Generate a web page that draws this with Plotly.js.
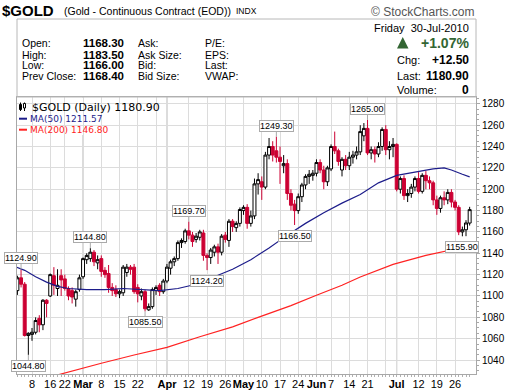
<!DOCTYPE html>
<html><head><meta charset="utf-8">
<script src="https://cdn.plot.ly/plotly-3.0.1.min.js"></script>
<style>html,body{margin:0;padding:0;background:#fff;} #chart{width:520px;height:391px;}</style>
</head><body><div id="chart"></div>
<script>
// ---------- DATA ----------
const febDays=[1,2,3,4,5,8,9,10,11,12,16,17,18,19,22,23,24,25,26];
const marDays=[1,2,3,4,5,8,9,10,11,12,15,16,17,18,19,22,23,24,25,26,29,30,31];
const aprDays=[1,5,6,7,8,9,12,13,14,15,16,19,20,21,22,23,26,27,28,29,30];
const mayDays=[3,4,5,6,7,10,11,12,13,14,17,18,19,20,21,24,25,26,27,28];
const junDays=[1,2,3,4,7,8,9,10,11,14,15,16,17,18,21,22,23,24,25,28,29,30];
const julDays=[1,2,6,7,8,9,12,13,14,15,16,19,20,21,22,23,26,27,28,29,30];

const openP=[1083,1105,1117,1111,1063,1064,1066,1079,1073,1096,1100,1119,1107,1119,1116,1107,1105,1097,1106,
1118,1134,1135,1141,1131,1135,1124,1121,1108,1106,1102,1103,1122,1127,1127,1108,1100,1104,1087,1090,1105,1110,1104,
1114,1126,1132,1135,1150,1151,1161,1157,1153,1155,1159,1138,1136,1141,1146,1141,1157,1152,1170,1164,1168,
1180,1183,1168,1175,1205,1207,1202,1232,1240,1236,1230,1222,1224,1196,1186,1180,1193,1204,1212,1213,
1215,1225,1218,1207,1219,1240,1236,1218,1228,1222,1230,1232,1235,1250,1257,1234,1237,1233,1240,1256,1237,1240,
1242,1200,1210,1194,1196,1202,1210,1198,1213,1208,1206,1190,1182,1192,1190,1197,1188,1183,1160,1162,1168.3];
const highP=[1107,1119,1124.9,1113,1066,1070,1080,1082,1097,1097,1121,1127,1125,1125,1120,1109,1108,1106,1120,
1136,1140,1144.8,1143,1138,1138,1127,1129,1112,1110,1106,1129,1130,1129,1130,1111,1107,1106,1093,1108,1110,1112,1116,
1130,1134,1137,1152,1154,1163,1169.7,1160,1159,1162,1162,1140,1145,1148,1149,1158,1160,1172,1172,1170,1183,
1185,1186,1180,1210,1215,1212,1235,1248,1245,1249.3,1240,1232,1228,1200,1190,1196,1206,1214,1218,1218,
1228,1228,1222,1222,1242,1254,1238,1230,1232,1235,1236,1240,1260,1262,1265,1240,1240,1244,1258,1260,1245,1248,
1243,1212,1213,1200,1205,1212,1216,1215,1217,1212,1208,1194,1194,1198,1200,1200,1190,1185,1165,1171,1183.5];
const lowP=[1082,1101,1108,1062,1044.8,1058,1064,1066,1068,1080,1099,1101,1100,1100,1105,1096,1093,1090,1104,
1116,1130,1132,1128,1125,1118,1117,1103,1100,1099,1098,1100,1118,1120,1102,1094,1096,1085.5,1086,1088,1101,1100,1102,
1112,1120,1128,1133,1145,1149,1153,1146,1150,1152,1133,1124.2,1130,1137,1130,1138,1150,1146,1160,1160,1165,
1176,1163,1165,1172,1195,1190,1200,1228,1226,1225,1205,1215,1190,1180,1166.5,1177,1188,1200,1205,1208,
1212,1215,1200,1203,1217,1233,1222,1212,1218,1218,1224,1228,1232,1245,1232,1228,1225,1230,1236,1232,1228,1230,
1198,1196,1190,1188,1192,1198,1196,1196,1200,1200,1185,1176,1178,1185,1186,1183,1180,1157,1155.9,1156,1166];
const closeP=[1105,1117,1111,1063,1065,1066,1077,1073,1096,1093,1120,1110,1110,1115,1107,1100,1099,1104,1117,
1135,1138,1141,1132,1134,1123,1120,1108,1105,1102,1104,1127,1127,1125,1104,1102,1104,1088,1090,1106,1108,1104,1114,
1127,1132,1135,1150,1152,1161,1157,1151,1156,1160,1138,1136,1143,1146,1141,1156,1153,1170,1165,1168,1181,
1183,1168,1175,1205,1209,1202,1232,1240,1232,1230,1226,1224,1196,1185,1180,1193,1204,1212,1214,1215,
1225,1218,1207,1220,1240,1236,1226,1228,1222,1230,1232,1235,1254,1257,1234,1237,1233,1240,1256,1237,1240,1242,
1200,1210,1194,1196,1202,1210,1198,1213,1208,1206,1190,1182,1192,1190,1197,1188,1183,1160,1162,1168.4,1180.9];

const ma50Dates=['2010-02-01','2010-02-04','2010-02-09','2010-02-12','2010-02-18','2010-02-23','2010-03-02','2010-03-09','2010-03-16','2010-03-23','2010-03-30','2010-04-07','2010-04-14','2010-04-21','2010-04-28','2010-05-05','2010-05-12','2010-05-19','2010-05-26','2010-06-03','2010-06-10','2010-06-17','2010-06-24','2010-07-01','2010-07-09','2010-07-16','2010-07-21','2010-07-23','2010-07-28','2010-07-30'];
const ma50Vals=[1128,1124,1118,1113,1109,1107,1106,1106,1107,1106,1105,1107,1111,1118,1125,1134,1145,1157,1168,1178,1187,1195,1206,1213,1216,1219,1220,1218,1214,1211.57];
const ma200Dates=['2010-02-18','2010-03-02','2010-03-08','2010-03-19','2010-04-01','2010-04-15','2010-04-28','2010-05-07','2010-05-20','2010-06-01','2010-06-10','2010-06-17','2010-06-30','2010-07-14','2010-07-22','2010-07-30'];
const ma200Vals=[1026,1033.5,1037,1044.7,1051.8,1061.8,1071,1080,1091,1100.7,1110,1117.8,1129.6,1138,1142.7,1146.8];

const tickDates=['2010-02-08','2010-02-16','2010-02-22','2010-03-01','2010-03-08','2010-03-15','2010-03-22','2010-03-29','2010-04-01','2010-04-12','2010-04-19','2010-04-26','2010-05-03','2010-05-10','2010-05-17','2010-05-24','2010-06-01','2010-06-07','2010-06-14','2010-06-21','2010-06-28','2010-07-01','2010-07-12','2010-07-19','2010-07-26'];
const tickLabels=['8','16','22','<b>Mar</b>','8','15','22','','<b>Apr</b>','12','19','26','<b>May</b>','10','17','24','<b>Jun</b>','7','14','21','','<b>Jul</b>','12','19','26'];
const monthStarts=['2010-03-01','2010-04-01','2010-05-03','2010-06-01','2010-07-01'];

const peakDates=['2010-02-03','2010-03-03','2010-04-12','2010-05-14','2010-06-21'];
const peakVals=[1124.90,1144.80,1169.70,1249.30,1265.00];
const troughDates=['2010-02-05','2010-03-24','2010-04-19','2010-05-21','2010-07-28'];
const troughVals=[1044.80,1085.50,1124.20,1166.50,1155.90];

// ---------- BUILD ----------
const dates=[];
[['02',febDays],['03',marDays],['04',aprDays],['05',mayDays],['06',junDays],['07',julDays]].forEach(([m,ds])=>{
  ds.forEach(d=>dates.push('2010-'+m+'-'+String(d).padStart(2,'0')));
});

const L=17,R=476,T=97,B=374;
const px=x=>(x-L)/(R-L), py=y=>(B-y)/(B-T);
const SANS='Liberation Sans, Arial, sans-serif';
const DV='DejaVu Sans, Verdana, sans-serif';
const GREEN='#336633', RED='#cc0033', NAVY='#1c1c8a', MARED='#ff2222';

function txt(x,y,text,o){o=o||{};
  return {xref:'paper',yref:'paper',x:px(x),y:py(y),text:text,showarrow:false,
    xanchor:o.anchor||'left',yanchor:'middle',
    font:{family:o.family||SANS,size:o.size||11,color:o.color||'#000'},
    bgcolor:o.bg||'rgba(0,0,0,0)',borderpad:0};
}
const ann=[];
ann.push(txt(1,10,'<b>$GOLD</b>',{size:15}));
ann.push(txt(63,10.5,'(Gold - Continuous Contract (EOD))',{size:10.5}));
ann.push(txt(235,10.5,'INDX',{size:8.5}));
ann.push(txt(476,12,'© StockCharts.com',{anchor:'right',size:12,color:'#555'}));
const rowY=[43,54.5,65.2,76];
const c1=['Open:','High:','Low:','Prev Close:'];
const c1v=['1168.30','1183.50','1166.00','1168.40'];
const c2=['Ask:','Ask Size:','Bid:','Bid Size:'];
const c3=['P/E:','EPS:','Last:','VWAP:'];
rowY.forEach((y,k)=>{
  ann.push(txt(20.5,y,c1[k],{size:10.5}));
  ann.push(txt(125,y,'<b>'+c1v[k]+'</b>',{anchor:'right',size:11.5}));
  ann.push(txt(137,y,c2[k],{size:10.5}));
  ann.push(txt(204,y,c3[k],{size:10.5}));
});
ann.push(txt(470,28,'Friday  30-Jul-2010',{anchor:'right'}));
ann.push(txt(470,43,'<b>+1.07%</b>',{anchor:'right',size:14,color:GREEN}));
ann.push(txt(396,60,'Chg:'));
ann.push(txt(470,60,'<b>+12.50</b>',{anchor:'right',size:12}));
ann.push(txt(396,76,'Last:'));
ann.push(txt(470,76,'<b>1180.90</b>',{anchor:'right',size:12}));
ann.push(txt(396,89.5,'Volume:'));
ann.push(txt(470,89.5,'<b>0</b>',{anchor:'right',size:12}));
// chart legend
ann.push(txt(31,107.5,'$GOLD (Daily) 1180.90',{family:DV,size:11}));
ann.push(txt(29,118.7,'MA(50) 1211.57',{family:DV,size:9,color:NAVY}));
ann.push(txt(29,129.7,'MA(200) 1146.80',{family:DV,size:9,color:MARED}));
// callouts
function callout(d,v,ay){
  return {xref:'x',yref:'y',x:d,y:v,text:v.toFixed(2),showarrow:true,arrowhead:0,arrowwidth:1,
    arrowcolor:'#aaaaaa',ax:0,ay:ay,standoff:0,bgcolor:'#fff',bordercolor:'#aaaaaa',borderwidth:1,borderpad:0,
    font:{family:SANS,size:9,color:'#000'}};
}
peakDates.forEach((d,k)=>ann.push(callout(d,peakVals[k],-11)));
troughDates.forEach((d,k)=>ann.push(callout(d,troughVals[k],11)));

const shapes=[];
shapes.push({type:'rect',xref:'paper',yref:'paper',x0:0,x1:1,y0:1,y1:py(19),line:{color:'#b8b8b8',width:1},fillcolor:'rgba(0,0,0,0)'});
monthStarts.forEach(d=>shapes.push({type:'line',xref:'x',yref:'paper',x0:d,x1:d,y0:0,y1:1,line:{color:'#b0b0b0',width:1},layer:'between'}));
shapes.push({type:'rect',xref:'paper',yref:'paper',x0:px(17.5),x1:px(161),y0:py(113),y1:py(97.5),fillcolor:'#fff',line:{width:0},layer:'between'});
shapes.push({type:'rect',xref:'paper',yref:'paper',x0:px(17.5),x1:px(104),y0:py(135),y1:py(112),fillcolor:'#fff',line:{width:0},layer:'between'});
shapes.push({type:'line',xref:'paper',yref:'paper',x0:px(20.5),x1:px(20.5),y0:py(111),y1:py(102.5),line:{color:'#000',width:1}});
shapes.push({type:'rect',xref:'paper',yref:'paper',x0:px(19.5),x1:px(21.5),y0:py(109.5),y1:py(104.5),fillcolor:'#000',line:{color:'#000',width:1}});
shapes.push({type:'line',xref:'paper',yref:'paper',x0:px(24.5),x1:px(24.5),y0:py(111),y1:py(102.5),line:{color:'#000',width:1}});
shapes.push({type:'rect',xref:'paper',yref:'paper',x0:px(23.5),x1:px(25.5),y0:py(108),y1:py(103.5),fillcolor:'#fff',line:{color:'#000',width:1}});
shapes.push({type:'line',xref:'paper',yref:'paper',x0:px(19),x1:px(27),y0:py(118.7),y1:py(118.7),line:{color:NAVY,width:2}});
shapes.push({type:'line',xref:'paper',yref:'paper',x0:px(19),x1:px(27),y0:py(129.7),y1:py(129.7),line:{color:MARED,width:2}});
shapes.push({type:'path',xref:'paper',yref:'paper',path:`M ${px(397)} ${py(48.5)} L ${px(408.5)} ${py(48.5)} L ${px(402.75)} ${py(37)} Z`,fillcolor:GREEN,line:{width:0}});

const traces=[
  {type:'candlestick',x:dates,open:openP,high:highP,low:lowP,close:closeP,
   increasing:{line:{color:'#000',width:1},fillcolor:'#fff'},
   decreasing:{line:{color:RED,width:1},fillcolor:RED},
   whiskerwidth:0,hoverinfo:'skip'},
  {type:'scatter',mode:'lines',x:ma50Dates,y:ma50Vals,line:{color:NAVY,width:1.2},hoverinfo:'skip'},
  {type:'scatter',mode:'lines',x:ma200Dates,y:ma200Vals,line:{color:MARED,width:1.2},hoverinfo:'skip'},
  {type:'scatter',mode:'markers',x:dates,y:closeP,xaxis:'x2',marker:{opacity:0,size:1},hoverinfo:'skip'}
];

const xr=[0.888,126.74];
const layout={
  width:520,height:391,margin:{l:L,r:520-R,t:T,b:391-B,pad:0},
  paper_bgcolor:'#fff',plot_bgcolor:'#fff',showlegend:false,
  boxgap:0.1,boxgroupgap:0.1,
  xaxis:{type:'category',categoryorder:'array',categoryarray:dates,range:xr,
    tickmode:'array',tickvals:tickDates,ticktext:tickLabels,tickangle:0,showgrid:true,gridcolor:'#dcdcdc',gridwidth:1,
    showline:true,linecolor:'#a8a8a8',mirror:true,ticks:'',zeroline:false,
    tickfont:{family:SANS,size:11,color:'#000'},rangeslider:{visible:false},fixedrange:true},
  xaxis2:{type:'category',categoryorder:'array',categoryarray:dates,range:xr,overlaying:'x',side:'bottom',
    tickmode:'linear',dtick:1,tick0:0,ticks:'outside',ticklen:2,tickcolor:'#b0b0b0',showticklabels:false,
    showgrid:false,showline:false,zeroline:false,fixedrange:true},
  yaxis:{side:'right',range:[1026.9,1286.4],tick0:1040,dtick:20,showgrid:true,gridcolor:'#dcdcdc',
    showline:true,linecolor:'#a8a8a8',mirror:true,ticks:'outside',ticklen:3,tickcolor:'#a8a8a8',zeroline:false,
    minor:{dtick:5,ticks:'outside',ticklen:2,tickcolor:'#a8a8a8',showgrid:false},
    tickfont:{family:SANS,size:10,color:'#000'},fixedrange:true},
  annotations:ann,shapes:shapes
};
Plotly.newPlot('chart',traces,layout,{displayModeBar:false,staticPlot:true});
</script></body></html>
